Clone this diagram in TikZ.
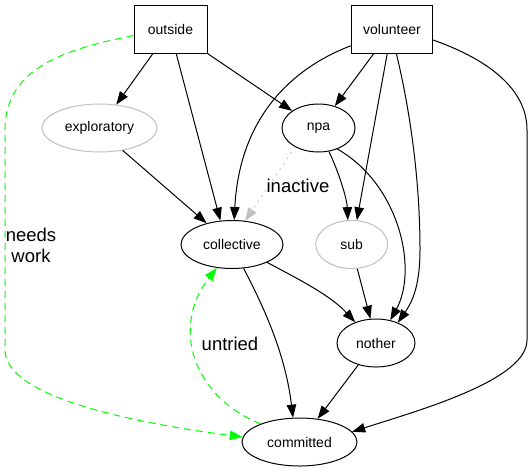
\documentclass[tikz,border=0pt]{standalone}
\usepackage{fontspec}
\setmainfont{Liberation Sans}
\usetikzlibrary{shapes.geometric,arrows.meta}
\definecolor{lgray}{RGB}{192,192,192}
\definecolor{lgreen}{RGB}{0,255,0}
\begin{document}
\begin{tikzpicture}[x=1pt,y=-1pt,
  nodefont/.style={font=\fontsize{14}{16}\selectfont},
  boxnode/.style={nodefont,draw,rectangle,line width=1pt,inner sep=0pt},
  ellnode/.style={nodefont,draw,ellipse,line width=1pt,inner sep=0pt,minimum height=48pt},
  grayell/.style={ellnode,draw=lgray},
  edge/.style={line width=1pt,-{Triangle[length=13pt,width=9.5pt]}},
  grayedge/.style={edge,draw=lgray,dash pattern=on 1.5pt off 5pt,-{Triangle[length=13pt,width=9.5pt,fill=lgray,color=lgray]}},
  greenedge/.style={edge,draw=lgreen,dash pattern=on 7pt off 5pt,-{Triangle[length=13pt,width=9.5pt,fill=lgreen,color=lgreen]}},
  lbl/.style={font=\fontsize{18.5}{21}\selectfont,inner sep=0pt,align=center}]
\useasboundingbox (0,0) rectangle (532,472);
\node[boxnode,minimum width=73pt,minimum height=48pt] (outside) at (170.5,29) {outside};
\node[boxnode,minimum width=81pt,minimum height=48pt] (volunteer) at (392,29) {volunteer};
\node[grayell,minimum width=115pt] (exploratory) at (99.5,128) {exploratory};
\node[ellnode,minimum width=73pt] (npa) at (318.5,128) {npa};
\node[ellnode,minimum width=102pt] (collective) at (232,244.5) {collective};
\node[grayell,minimum width=72pt] (sub) at (351.7,244.5) {sub};
\node[ellnode,minimum width=78pt] (nother) at (376,343) {nother};
\node[ellnode,minimum width=115pt] (committed) at (299.5,442) {committed};
% edges
\draw[edge] (outside) -- (exploratory);
\draw[edge] (outside.-77) -- (collective.116);
\draw[edge] (outside.south east) -- (npa.147);
\draw[edge] (exploratory.-44) -- (collective.140.6);
\draw[edge] (volunteer.west |- 0,45.7) .. controls (300,65) and (240,110) .. (collective.85);
\draw[edge] (volunteer) -- (npa);
\draw[edge] (volunteer.-101) -- (sub.78);
\draw[edge] (npa.-66.7) .. controls (340,175) and (347,200) .. (sub.99);
\draw[edge] (npa.-48) .. controls (400,185) and (418,270) .. (nother.58.7);
\draw[edge] (volunteer.-80.6) .. controls (410,110) and (420,180) .. (420,250) .. controls (420,290) and (410,305) .. (nother.43.7);
\draw[edge] (volunteer.-15) .. controls (490,60) and (527,90) .. (527,130) -- (527,340) .. controls (527,380) and (420,410) .. (committed.11.2);
\draw[edge] (collective.-27) .. controls (300,280) and (330,295) .. (nother.135);
\draw[edge] (collective.-64.9) .. controls (260,300) and (285,350) .. (committed.105);
\draw[edge] (sub.-77) -- (nother.103.5);
\draw[edge] (nother.-129) -- (committed.52);
\draw[grayedge] (npa.-141) -- (collective.61.5);
\node[lbl] (lblinactive) at (298,186) {inactive};
\draw[greenedge] (outside.190) .. controls (60,50) and (5,70) .. (5,130) -- (5,350) .. controls (5,400) and (150,425) .. (committed.175);
\node[lbl] (lblneeds) at (31,245) {needs\\work};
\draw[greenedge] (committed.155) .. controls (190,395) and (172,325) .. (collective.-123);
\node[lbl] (lbluntried) at (230,344) {untried};
\end{tikzpicture}
\end{document}
